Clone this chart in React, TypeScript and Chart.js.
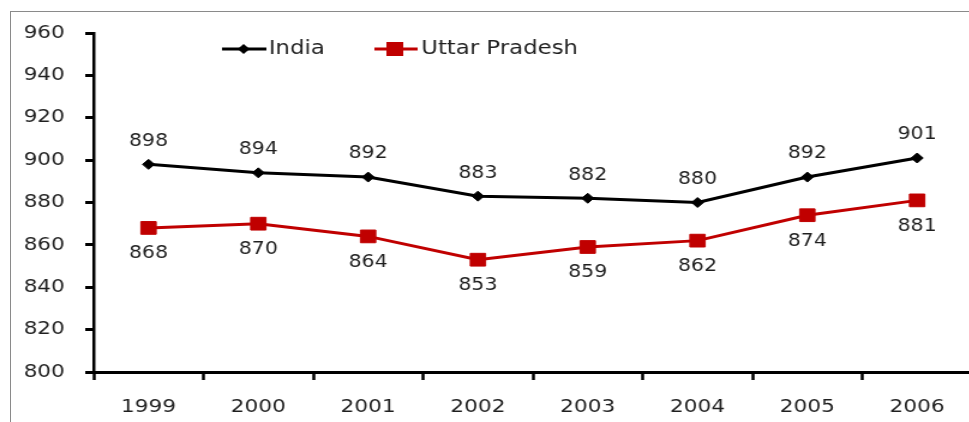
import React, { useEffect, useRef } from 'react';
import { Chart, registerables } from 'chart.js';

Chart.register(...registerables);

// ---- data ----
const years = ['1999', '2000', '2001', '2002', '2003', '2004', '2005', '2006'];
const indiaValues = [898, 894, 892, 883, 882, 880, 892, 901];
const upValues = [868, 870, 864, 853, 859, 862, 874, 881];
const seriesNames = ['India', 'Uttar Pradesh'];
const yMin = 800;
const yMax = 960;
const yStep = 20;

// ---- styling ----
const SX = 1.2; // horizontal stretch of the picture
const CSS_W = 990;
const H = 422;
const INT_W = Math.round(CSS_W / SX);
const FONT = 'DejaVu Sans';
const TEXT = '#1f1f1f';
const RED = '#C00000';

const labelsPlugin = {
  id: 'pointLabels',
  afterDatasetsDraw(chart: any) {
    const ctx = chart.ctx;
    ctx.save();
    ctx.font = `17px "${FONT}"`;
    ctx.fillStyle = TEXT;
    ctx.textAlign = 'center';
    ctx.textBaseline = 'middle';
    chart.data.datasets.forEach((ds: any, di: number) => {
      const meta = chart.getDatasetMeta(di);
      meta.data.forEach((pt: any, i: number) => {
        const off = di === 0 ? -23 : 26;
        ctx.fillText(String(ds.data[i]), pt.x, pt.y + off);
      });
    });
    ctx.restore();
  },
};

const legendPlugin = {
  id: 'customLegend',
  afterDraw(chart: any) {
    const ctx = chart.ctx;
    const y = 49;
    ctx.save();
    // India
    ctx.lineWidth = 3;
    ctx.strokeStyle = '#000';
    ctx.beginPath();
    ctx.moveTo(185, y);
    ctx.lineTo(222, y);
    ctx.stroke();
    ctx.fillStyle = '#000';
    ctx.beginPath();
    const r = 5;
    ctx.moveTo(203 - r, y);
    ctx.lineTo(203, y - r);
    ctx.lineTo(203 + r, y);
    ctx.lineTo(203, y + r);
    ctx.closePath();
    ctx.fill();
    // Uttar Pradesh
    ctx.strokeStyle = RED;
    ctx.beginPath();
    ctx.moveTo(312, y);
    ctx.lineTo(348, y);
    ctx.stroke();
    ctx.fillStyle = RED;
    ctx.fillRect(329 - 7, y - 7, 14, 14);
    // text
    ctx.font = `19px "${FONT}"`;
    ctx.fillStyle = TEXT;
    ctx.textAlign = 'left';
    ctx.textBaseline = 'middle';
    ctx.fillText(seriesNames[0], 224, y);
    ctx.fillText(seriesNames[1], 351, y);
    ctx.restore();
  },
};

export default function App() {
  const ref = useRef<HTMLCanvasElement | null>(null);

  useEffect(() => {
    document.body.style.margin = '0';
    document.body.style.overflow = 'hidden';
    if (!ref.current) return;
    const chart = new Chart(ref.current, {
      type: 'line',
      data: {
        labels: years,
        datasets: [
          {
            label: seriesNames[0],
            data: indiaValues,
            borderColor: '#000',
            backgroundColor: '#000',
            borderWidth: 3,
            pointStyle: 'rectRot',
            pointRadius: 5,
            pointBorderWidth: 1,
            pointBackgroundColor: '#000',
            pointBorderColor: '#000',
            tension: 0,
          },
          {
            label: seriesNames[1],
            data: upValues,
            borderColor: RED,
            backgroundColor: RED,
            borderWidth: 3,
            pointStyle: 'rect',
            pointRadius: 9,
            pointBorderWidth: 1,
            pointBackgroundColor: RED,
            pointBorderColor: RED,
            tension: 0,
          },
        ],
      },
      options: {
        responsive: false,
        animation: false,
        devicePixelRatio: 1,
        layout: { padding: { top: 33, right: 15, bottom: 0, left: 0 } },
        plugins: {
          legend: { display: false },
          tooltip: { enabled: false },
          title: { display: false },
        },
        scales: {
          x: {
            offset: true,
            grid: {
              offset: true,
              drawOnChartArea: false,
              drawTicks: true,
              tickLength: 8,
              tickWidth: 2.5,
              tickColor: '#000',
            },
            border: { display: true, color: '#000', width: 3 },
            ticks: {
              color: TEXT,
              font: { family: FONT, size: 18 },
              padding: 17,
              maxRotation: 0,
              autoSkip: false,
            },
            afterFit: (s: any) => {
              s.height = 50;
            },
          },
          y: {
            min: yMin,
            max: yMax,
            grid: {
              drawOnChartArea: false,
              drawTicks: true,
              tickLength: 7,
              tickWidth: 3,
              tickColor: '#000',
            },
            border: { display: true, color: '#000', width: 2.5 },
            ticks: {
              stepSize: yStep,
              color: TEXT,
              font: { family: FONT, size: 18 },
              padding: 17,
            },
            afterFit: (s: any) => {
              s.width = 78;
            },
          },
        },
      },
      plugins: [labelsPlugin, legendPlugin],
    } as any);
    return () => chart.destroy();
  }, []);

  return (
    <div
      style={{
        position: 'fixed',
        left: 0,
        top: 0,
        width: 969,
        height: 422,
        overflow: 'hidden',
        background: '#fff',
      }}
    >
      <div
        style={{
          position: 'absolute',
          left: 10,
          top: 11,
          width: 2000,
          height: 2000,
          border: '1px solid #8a8a8a',
        }}
      />
      <canvas
        ref={ref}
        width={INT_W}
        height={H}
        style={{ position: 'absolute', left: 0, top: 0, width: `${CSS_W}px`, height: `${H}px` }}
      />
    </div>
  );
}
